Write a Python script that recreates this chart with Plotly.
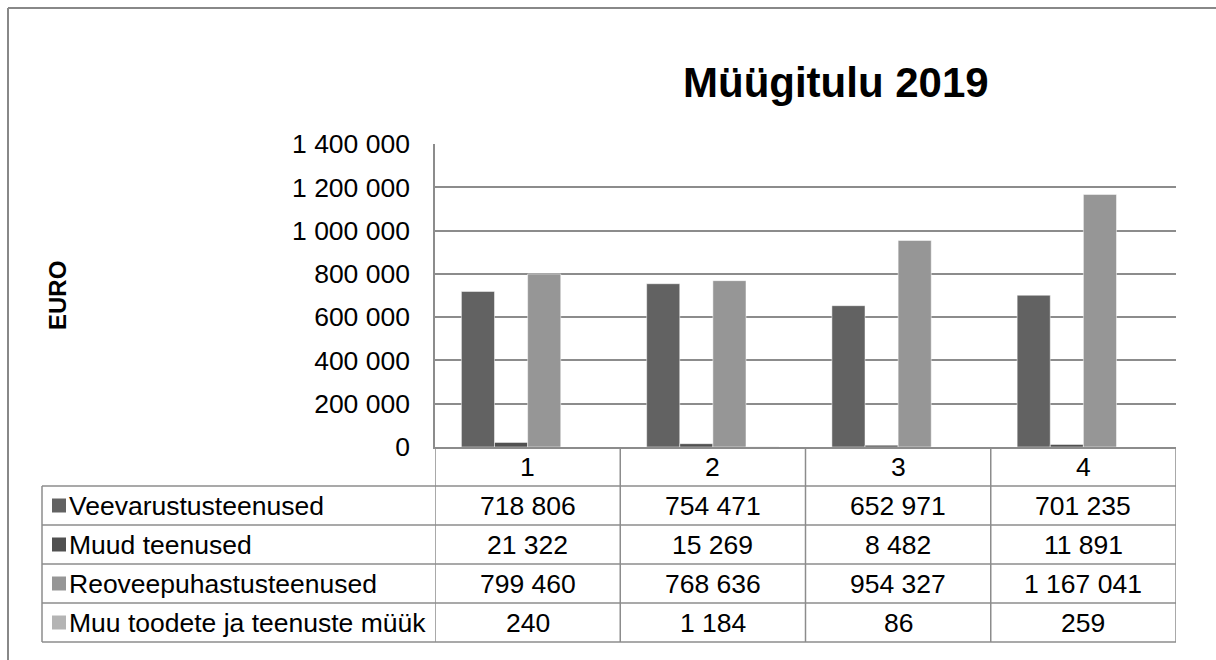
import plotly.graph_objects as go

# andmed
categories = ["1", "2", "3", "4"]
series_names = ["Veevarustusteenused", "Muud teenused",
                "Reoveepuhastusteenused", "Muu toodete ja teenuste müük"]
vee = [718806, 754471, 652971, 701235]
muud = [21322, 15269, 8482, 11891]
reovee = [799460, 768636, 954327, 1167041]
muu_myyk = [240, 1184, 86, 259]
colors = ["#626262", "#505050", "#969696", "#b4b4b4"]

W, H = 1216, 660
FONT = "Liberation Sans, Arial, sans-serif"
GRID = "#8c8c8c"
FS = 26.5

# plot area in pixels
left, right, top, bottom = 435, 1176, 144, 447
row_h = 39
table_left = 42


def px(x):
    return x / W


def py(y):
    return 1 - y / H


def fmt(v):
    return f"{v:,}".replace(",", " ")


fig = go.Figure()
all_series = [vee, muud, reovee, muu_myyk]
for name, vals, col in zip(series_names, all_series, colors):
    fig.add_trace(go.Bar(x=categories, y=vals, name=name,
                         marker=dict(color=col, line=dict(color="white", width=0.5))))

shapes = []
# outer chart border (top + left only visible)
shapes.append(dict(type="line", xref="paper", yref="paper", x0=px(8), x1=1, y0=py(8), y1=py(8),
                   line=dict(color="#888888", width=2)))
shapes.append(dict(type="line", xref="paper", yref="paper", x0=px(8), x1=px(8), y0=py(8), y1=0,
                   line=dict(color="#888888", width=2)))

# table grid
n_rows = len(series_names)
table_bottom = bottom + row_h * (n_rows + 1)
for i in range(n_rows + 1):
    y = bottom + row_h * (i + 1)
    shapes.append(dict(type="line", xref="paper", yref="paper", x0=px(table_left), x1=px(right),
                       y0=py(y), y1=py(y), line=dict(color=GRID, width=1.5)))
shapes.append(dict(type="line", xref="paper", yref="paper", x0=px(table_left), x1=px(table_left),
                   y0=py(bottom + row_h), y1=py(table_bottom), line=dict(color=GRID, width=1.5)))
for i in range(len(categories) + 1):
    shapes.append(dict(type="line", xref="x", yref="paper", x0=i - 0.5, x1=i - 0.5,
                       y0=py(bottom), y1=py(table_bottom), line=dict(color=GRID, width=1.5)))

annotations = []
# header row with category labels
for c, cat in enumerate(categories):
    annotations.append(dict(text=cat, xref="x", yref="paper", x=c, y=py(bottom + row_h / 2),
                            xanchor="center", yanchor="middle", showarrow=False,
                            font=dict(size=FS, color="black", family=FONT)))
# legend keys + series names + values
for r, (name, vals, col) in enumerate(zip(series_names, all_series, colors)):
    yc = bottom + row_h * (r + 1) + row_h / 2
    shapes.append(dict(type="rect", xref="paper", yref="paper", x0=px(52), x1=px(66),
                       y0=py(yc - 7), y1=py(yc + 7), fillcolor=col, line=dict(width=0)))
    annotations.append(dict(text=name, xref="paper", yref="paper", x=px(67), y=py(yc),
                            xanchor="left", yanchor="middle", showarrow=False,
                            font=dict(size=FS, color="black", family=FONT)))
    for c, v in enumerate(vals):
        annotations.append(dict(text=fmt(v), xref="x", yref="paper", x=c, y=py(yc),
                                xanchor="center", yanchor="middle", showarrow=False,
                                font=dict(size=FS, color="black", family=FONT)))

# title
annotations.append(dict(text="<b>Müügitulu 2019</b>", xref="paper", yref="paper", x=px(836), y=py(82),
                        xanchor="center", yanchor="middle", showarrow=False,
                        font=dict(size=42, color="black", family=FONT)))
# y axis title
annotations.append(dict(text="<b>EURO</b>", xref="paper", yref="paper", x=px(57), y=py(296),
                        xanchor="center", yanchor="middle", showarrow=False, textangle=-90,
                        font=dict(size=24, color="black", family=FONT)))

fig.update_layout(
    width=W, height=H,
    margin=dict(l=0, r=0, t=0, b=0, pad=0),
    paper_bgcolor="white", plot_bgcolor="white",
    font=dict(family=FONT, size=FS, color="black"),
    barmode="group", bargap=0.285, bargroupgap=0,
    showlegend=False,
    separators=", ",
    shapes=shapes,
    annotations=annotations,
    xaxis=dict(domain=[px(left), px(right)], type="category", range=[-0.5, 3.5],
               showgrid=False, automargin=False, showticklabels=False,
               showline=True, linecolor=GRID, linewidth=1.5, ticks=""),
    yaxis=dict(domain=[py(bottom), py(top)], range=[0, 1400000], dtick=200000,
               tickformat=",d", showgrid=True, gridcolor=GRID, gridwidth=1.5,
               showline=True, linecolor=GRID, linewidth=1.5, zeroline=False,
               automargin=False, ticks="", ticklabelstandoff=18, tickfont=dict(size=FS)),
)

fig.write_html("out.html", config={"displayModeBar": False},
               post_script="document.body.style.margin='0';")
